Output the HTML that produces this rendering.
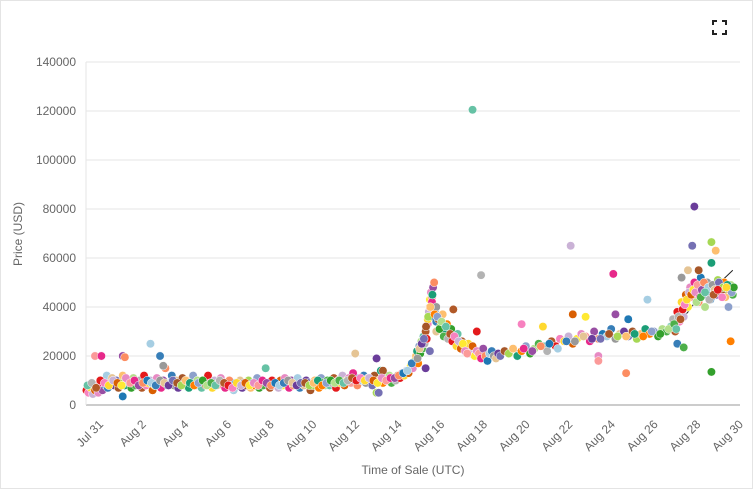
<!DOCTYPE html>
<html><head><meta charset="utf-8"><style>
body{margin:0;background:#fff;font-family:"Liberation Sans",sans-serif}
#wrap{position:relative;width:754px;height:490px;overflow:hidden}
</style></head><body>
<div id="wrap">
<svg id="chart" width="754" height="490">
<rect x="0.5" y="0.5" width="752" height="488" fill="#fff" stroke="#e4e4e4"/>
<g id="grid"></g>
<g id="trend"></g>
<g id="dots"></g>
<g id="axes"></g>
<text x="22" y="234" transform="rotate(-90 22 234)" text-anchor="middle" font-size="12" fill="#666">Price (USD)</text>
<text x="413" y="474" text-anchor="middle" font-size="12" fill="#666">Time of Sale (UTC)</text>
<g stroke="#222" stroke-width="2" fill="none">
<path d="M713 25v-4h4M722 21h4v4M726 30v4h-4M717 34h-4v-4"/>
</g>
</svg>
</div>
<script>
const yTicks=[0,20000,40000,60000,80000,100000,120000,140000];
const xTickLabels=["Jul 31","Aug 2","Aug 4","Aug 6","Aug 8","Aug 10","Aug 12","Aug 14","Aug 16","Aug 18","Aug 20","Aug 22","Aug 24","Aug 26","Aug 28","Aug 30"];
const xTickDays=[0,2,4,6,8,10,12,14,16,18,20,22,24,26,28,30];
const pointDays=[-0.4,-0.3,-0.2,-0.1,0,0.1,0.15,0.2,0.3,0.35,0.4,0.5,0.55,0.6,0.7,0.8,0.9,1,1.1,1.2,1.3,1.4,1.5,1.6,1.7,1.8,1.9,2,2.1,2.2,2.3,2.4,2.5,2.6,2.7,2.8,2.9,3,3.1,3.2,3.3,3.4,3.5,3.6,3.7,3.8,3.9,4,4.1,4.2,4.3,4.4,4.5,4.6,4.7,4.8,4.9,5,5.1,5.2,5.3,5.4,5.5,5.6,5.7,5.8,5.9,6,6.1,6.2,6.3,6.4,6.5,6.6,6.7,6.8,6.9,7,7.1,7.2,7.3,7.4,7.5,7.6,7.7,7.8,7.9,8,8.1,8.2,8.3,8.4,8.5,8.6,8.7,8.8,8.9,9,9.1,9.2,9.3,9.4,9.5,9.6,9.7,9.8,9.9,10,10.1,10.2,10.3,10.4,10.5,10.6,10.7,10.8,10.9,11,11.1,11.2,11.3,11.4,11.5,11.6,11.7,11.8,11.9,12,12.1,12.2,12.3,12.4,12.5,12.6,12.7,12.8,12.9,13,13.1,13.2,13.3,13.4,13.5,13.6,13.7,13.8,13.9,14,14.1,14.2,14.3,14.4,14.5,14.6,14.7,14.8,14.9,
0,0.3,1.3,1.4,1.3,2.6,3.05,3.2,12.2,13.2,13.3,13.5,
15,15.05,15.1,15.15,15.2,15.25,15.3,15.35,15.4,15.45,15.5,15.55,15.6,15.6,15.65,15.7,15.7,15.75,15.8,15.8,15.85,15.9,15.9,15.95,16,16,16,15.5,15.7,
16.1,16.2,16.3,16.4,16.5,16.6,16.7,16.8,16.9,17,17.1,17.2,17.3,17.4,17.5,17.6,17.7,17.8,17.9,18,18.1,18.2,18.3,18.4,18.5,18.6,18.7,18.8,18.9,19,19.2,19.4,19.6,19.8,20,20.2,20.4,20.6,20.8,21,21.2,21.4,21.6,21.8,22,22.2,22.4,22.6,22.8,23,23.2,23.4,23.6,23.8,24,24.2,24.4,24.6,24.8,25,25.2,25.4,25.6,25.8,26,26.2,26.4,26.6,26.8,27,27.1,27.2,27.3,27.4,27.5,27.6,27.7,27.8,27.9,28,28.1,28.2,28.3,28.4,28.5,28.6,28.7,28.8,28.9,29,29.1,29.2,29.3,29.4,29.5,29.6,29.7,29.8,29.9,
17.7,18.1,16.8,17.9,20,21,22.3,22.4,23,23.6,23.6,24.3,24.4,24.9,25,25.9,27.3,27.5,27.8,28.1,28,28.3,28.9,29.1,28.9,29.8,29.7,28.9,28.6,27.6,
-0.35,-0.15,0.05,0.25,0.45,0.65,0.85,1.05,1.25,1.45,1.65,1.85,2.05,2.25,2.45,2.65,2.85,3.05,3.25,3.45,3.65,3.85,4.05,4.25,4.45,4.65,4.85,5.05,5.25,5.45,5.65,5.85,6.05,6.25,6.45,6.65,6.85,7.05,7.25,7.45,7.65,7.85,8.05,8.25,8.45,8.65,8.85,9.05,9.25,9.45,9.65,9.85,10.05,10.25,10.45,10.65,10.85,11.05,11.25,11.45,11.65,11.85,12.05,12.25,12.45,12.65,12.85,13.05,13.25,13.45,13.65,13.85,14.05,14.25,14.45,14.65,14.85,
15.12,15.22,15.32,15.42,15.52,15.62,15.72,15.82,15.92,16.05,16.15,16.25,16.35,16.45,16.55,16.65,16.75,16.85,16.95,17.05,17.15,17.25,17.35,17.45,
20.1,20.5,20.9,21.3,21.7,22.1,22.5,22.9,23.3,23.7,24.1,24.5,24.9,25.3,25.7,26.1,26.5,26.9,
27.15,27.25,27.35,27.45,27.55,27.65,27.75,27.85,27.95,28.05,28.15,28.25,28.35,28.45,28.55,28.65,28.75,28.85,28.95,29.05,29.15,29.25,29.35,29.45,29.55,29.65,29.75,29.85,29.95,28.2,28.4,28.6,28.8,29,29.2,29.4,29.6];
const pointPrices=[6,5,7,4.5,6,8,5,9,7,6,10,8,12,7,9,11,8,10,7,9,12,8,10,9,7,11,8,9,10,7,12,8,9,10,6,8,11,9,7,10,15,8,9,12,8,10,7,9,11,8,10,7,9,12,8,10,9,7,10,8,12,9,7,10,8,9,11,8,7,9,10,8,6,9,8,10,7,9,8,10,7,9,8,11,7,9,8,15,9,7,10,8,9,7,10,8,11,9,7,10,8,9,11,7,9,8,10,9,6,8,10,9,7,11,9,8,10,8,9,11,7,10,9,12,8,10,11,9,13,10,8,11,10,12,9,11,10,8,12,5,10,14,9,11,10,12,9,11,10,12,11,13,12,14,13,16,15,
20,20,20,19.5,3.5,25,20,16,21,19,5,14,
18,20,22,17,24,21,26,23,28,25,30,27,33,35,38,40,43,46,44,42,48,50,36,38,34,40,30,15,22,
35,32,37,30,33,28,31,27,25,29,24,26,23,22,25,21,24,20,22,21,19,23,20,18,21,22,20,19,21,20,22,21,23,20,22,24,21,23,25,24,22,26,24,27,26,28,25,27,29,28,26,30,27,29,28,31,27,29,30,28,30,27,29,31,29,30,28,31,30,32,35,30,38,34,42,36,45,40,48,44,50,46,42,52,48,45,50,47,44,49,46,51,48,45,50,47,46,49,45,
120.5,53,39,30,33,32,65,37,36,20,18,53.5,37,13,35,43,25,52,55,81,65,55,66.5,63,58,26,40,13.5,40,23.5,
8,9,7,10,9,8,10,9,8,11,9,10,8,9,10,9,8,10,9,8,10,9,8,10,9,8,9,10,8,9,8,10,9,8,7,9,8,9,8,9,8,10,9,8,9,8,9,10,9,8,9,9,8,9,10,8,9,10,9,10,9,10,11,10,11,10,11,10,9,11,10,11,11,12,13,14,17,
19,23,25,27,32,36,40,45,37,36,31,34,28,32,27,29,26,28,24,26,23,25,22,21,
23,22,24,25,23,26,26,28,27,27,29,28,28,29,28,30,29,31,
33,31,36,35,39,41,43,46,45,47,46,49,44,47,50,46,48,43,49,47,45,50,46,48,44,49,47,46,48,42,44,46,43,45,47,44,48];
const trendDays=[-0.4,2,4,6,8,10,12,13,14,14.8,15.3,15.7,16,16.5,17,17.5,18,19,20,21,22,23,24,25,26,26.8,27.3,27.8,28.3,28.8,29.3,29.9];
const trendPrices=[6,8.5,9,8.5,8.5,9,10,10.5,11,15,24,38,34,30,26,23,21,21,22.5,24,26,27.5,28.5,29,29.5,30.5,33,38,44,47,50,55];
const palette=["#e41a1c","#377eb8","#4daf4a","#984ea3","#ff7f00","#ffe933","#a65628","#f781bf","#999999","#66c2a5","#fc8d62","#8da0cb","#e78ac3","#a6d854","#ffd92f","#e5c494","#b3b3b3","#1f78b4","#33a02c","#fb9a99","#fdbf6f","#cab2d6","#6a3d9a","#b15928","#a6cee3","#b2df8a","#e7298a","#1b9e77","#d95f02","#7570b3"];
const NS="http://www.w3.org/2000/svg";
const X0=95,DX=21.33,Y0=405,YH=343;
function xs(d){return X0+d*DX}
function ys(v){return Y0-v/140000*YH}
function mk(tag,attrs,parent){const e=document.createElementNS(NS,tag);for(const k in attrs)e.setAttribute(k,attrs[k]);parent.appendChild(e);return e}
const grid=document.getElementById('grid'),axes=document.getElementById('axes'),dots=document.getElementById('dots'),trend=document.getElementById('trend');
yTicks.forEach(t=>{
 const l=mk('line',{x1:86,x2:740,y1:ys(t),y2:ys(t),stroke:t===0?'#ccc':'#e6e6e6','stroke-width':t===0?2:1},grid);
 
 
 const tx=mk('text',{x:76,y:ys(t)+4,'text-anchor':'end','font-size':12,fill:'#666'},axes);
 tx.textContent=String(t);
 
 
});
const vl=mk('line',{x1:86,x2:86,y1:62,y2:405,stroke:'#e6e6e6'},grid);


xTickLabels.forEach((lab,i)=>{
 const x=xs(xTickDays[i])+9,y=425;
 const tx=mk('text',{x:x,y:y,'text-anchor':'end','font-size':12,fill:'#666',transform:`rotate(-45 ${x} ${y})`},axes);
 tx.textContent=lab;
 
 
});
pointDays.forEach((d,i)=>{
 const c=mk('circle',{cx:xs(d),cy:ys(pointPrices[i]*1000),r:4.2,fill:palette[(i*7)%palette.length],stroke:'#fff','stroke-width':0.5},dots);
 
 
});
const pts=trendDays.map((d,i)=>xs(d)+','+ys(trendPrices[i]*1000)).join(' ');
const pl=mk('polyline',{points:pts,fill:'none',stroke:'#222','stroke-width':1},trend);


</script>
</body></html>
